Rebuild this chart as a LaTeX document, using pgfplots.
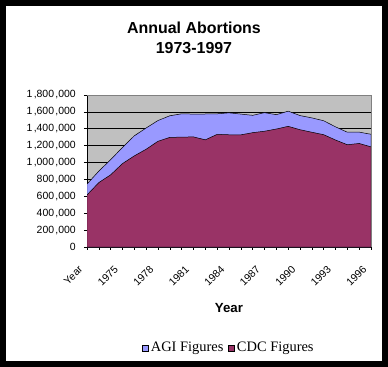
\documentclass[border=0pt]{standalone}
\usepackage{pgfplots}
\pgfplotsset{compat=1.18}
\usepackage{pgfplotstable}
\usepackage{fontspec}
\setmainfont{Liberation Sans}
\newfontfamily\legfont{Liberation Serif}
\definecolor{agi}{HTML}{9999FF}
\definecolor{cdc}{HTML}{993366}
\definecolor{bgc}{HTML}{C0C0C0}
\definecolor{frm}{HTML}{808080}
\newcommand\cm{\kern1.3bp,}
\pgfplotstableread{
i agi cdc
0 744600 616000
1 898600 763000
2 1034200 855000
3 1179300 988000
4 1316700 1079000
5 1409600 1158000
6 1497700 1252000
7 1553900 1298000
8 1577300 1301000
9 1573900 1304000
10 1575000 1269000
11 1577200 1334000
12 1588600 1329000
13 1574000 1328000
14 1559100 1354000
15 1590800 1371000
16 1566900 1397000
17 1608600 1429000
18 1556500 1389000
19 1528900 1359000
20 1495000 1330000
21 1423000 1267000
22 1359400 1211000
23 1360200 1226000
24 1335000 1186000
}\abort
\begin{document}
\begin{tikzpicture}[x=1bp,y=1bp]
\fill[black] (0,0) rectangle (388,367);
\fill[white] (6,6) rectangle (382,361);
\node[font=\fontsize{16}{18}\selectfont\bfseries, anchor=base, inner sep=0pt] at (194,334) {Annual Abortions};
\node[font=\fontsize{16}{18}\selectfont\bfseries, anchor=base, inner sep=0pt] at (194,314) {1973-1997};
\begin{axis}[at={(87bp,120bp)}, anchor=south west, scale only axis,
  width=284bp, height=152bp,
  xmin=0, xmax=24, ymin=0, ymax=1800000,
  axis background/.style={fill=bgc},
  axis x line*=bottom, axis y line*=left,
  axis line style={black, line width=0.6pt},
  tick align=outside, major tick length=3bp, minor tick length=3bp,
  tick style={black, line width=0.6pt},
  xtick={0,3,...,24},
  minor xtick={0,...,24},
  xticklabels={Year,1975,1978,1981,1984,1987,1990,1993,1996},
  ytick={0,200000,400000,600000,800000,1000000,1200000,1400000,1600000,1800000},
  yticklabels={0,200\cm000,400\cm000,600\cm000,800\cm000,1\cm000\cm000,1\cm200\cm000,1\cm400\cm000,1\cm600\cm000,1\cm800\cm000},
  scaled y ticks=false,
  ymajorgrids, grid style={black, line width=0.6pt},
  ticklabel style={font=\fontsize{10.5}{12}\selectfont},
  yticklabel style={inner sep=0pt, xshift=-8bp},
  xticklabel style={xshift=-9bp, yshift=-15bp, rotate=45, anchor=north east, inner sep=0pt},
  xlabel={Year},
  xlabel style={at={(axis description cs:0.5,-0.428)}, anchor=base, inner sep=0pt, font=\bfseries\fontsize{13.3}{15}\selectfont},
  legend style={at={(axis description cs:0.5,-0.664)}, anchor=center, draw=none, fill=none,
    legend columns=2, font=\legfont\fontsize{14.5}{16}\selectfont,
    /tikz/every even column/.append style={column sep=3bp}},
  legend image code/.code={\draw[#1,draw=black,line width=0.5pt] (0bp,-3bp) rectangle (6bp,3bp);},
  clip=true,
]
\addplot[fill=agi, draw=black, line width=0.5pt] table[x=i, y=agi] {\abort} \closedcycle;
\addlegendentry{AGI Figures}
\addplot[fill=cdc, draw=black, line width=0.5pt] table[x=i, y=cdc] {\abort} \closedcycle;
\addlegendentry{CDC Figures}
\end{axis}
\draw[frm, line width=0.6pt] (87,272) -- (371,272) -- (371,120);
\end{tikzpicture}
\end{document}
